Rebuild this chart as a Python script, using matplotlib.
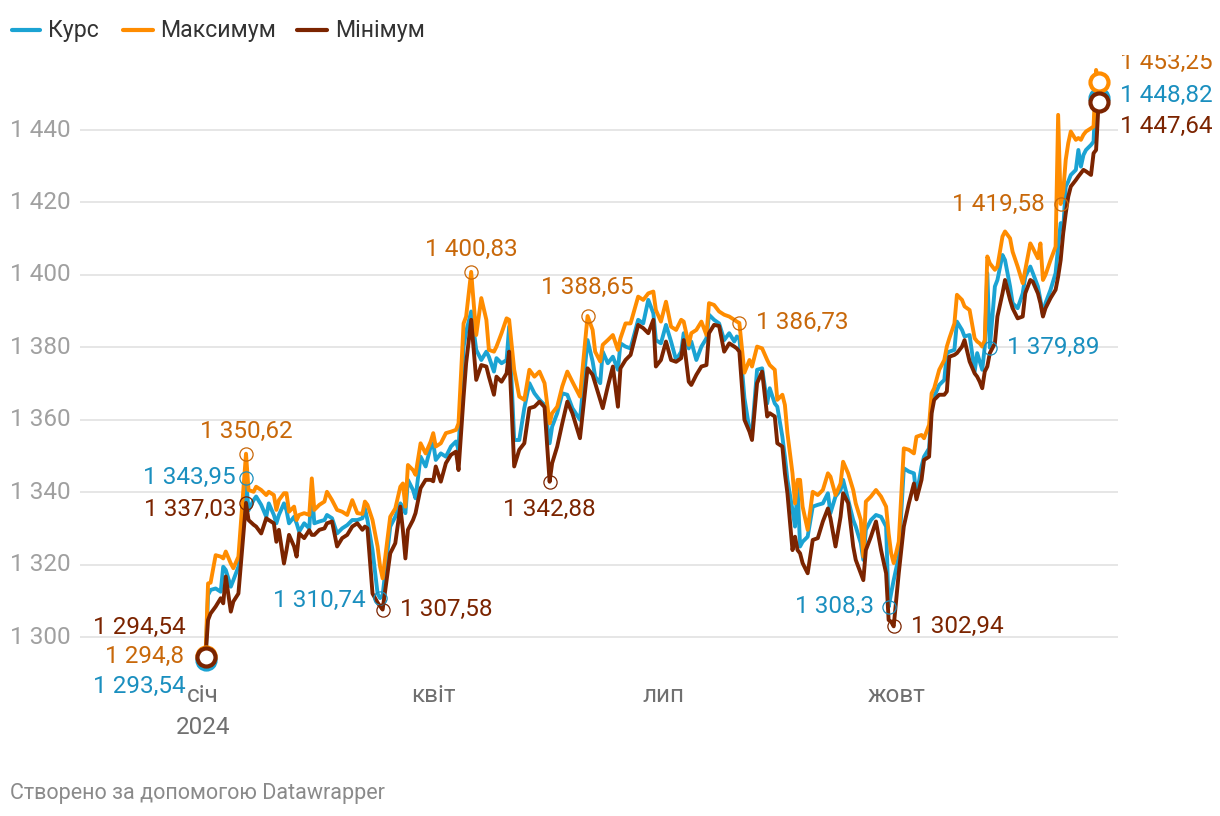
import numpy as np
import pandas as pd
import matplotlib
matplotlib.use('Agg')
import matplotlib.pyplot as plt
from matplotlib.lines import Line2D
from matplotlib.patches import Rectangle

# days since 1 Jan 2024
day = [1, 2, 3, 5, 7, 8, 9, 11, 12, 14, 17, 18, 20, 21, 23, 25, 26, 28, 29, 30,
       32, 33, 34, 36, 37, 38, 40, 42, 43, 44, 46, 48, 49, 51, 53, 55, 57, 59, 61, 63,
       64, 65, 67, 69, 70, 71, 74, 76, 78, 79, 80, 81, 83, 84, 86, 88, 90, 91, 92, 94,
       96, 98, 100, 101, 103, 104, 106, 108, 110, 112, 113, 115, 116, 118, 120, 121, 123, 125, 127, 129,
       131, 133, 135, 137, 138, 140, 142, 144, 146, 149, 152, 154, 155, 157, 158, 160, 162, 164, 165, 167,
       169, 172, 174, 176, 178, 179, 181, 183, 185, 187, 189, 190, 192, 193, 195, 197, 199, 200, 202, 204,
       206, 208, 210, 211, 212, 214, 216, 217, 219, 221, 223, 224, 226, 227, 229, 230, 231, 233, 234, 235,
       236, 237, 239, 241, 243, 245, 247, 248, 250, 252, 253, 255, 257, 258, 260, 261, 262, 264, 266, 268,
       270, 271, 272, 273, 275, 277, 279, 281, 282, 284, 285, 287, 288, 289, 291, 293, 294, 295, 297, 298,
       300, 301, 303, 305, 306, 307, 308, 309, 310, 311, 313, 314, 316, 317, 319, 320, 322, 324, 325, 327,
       328, 330, 331, 332, 333, 335, 337, 338, 339, 340, 341, 342, 343, 345, 346, 347, 348, 349, 351, 352,
       353, 354]

kurs = [1293.54, 1311.6, 1313.0, 1313.4, 1312.5, 1319.4, 1318.5, 1313.9, 1315.7, 1319.4,
        1343.95, 1335.0, 1337.8, 1338.8, 1336.5, 1333.2, 1336.9, 1333.7, 1331.4, 1333.7,
        1336.9, 1335.0, 1331.4, 1333.2, 1331.4, 1329.1, 1331.4, 1330.0, 1340.6, 1331.4,
        1331.9, 1332.3, 1333.7, 1332.8, 1328.6, 1330.0, 1330.9, 1332.3, 1332.3, 1332.8,
        1335.5, 1332.3, 1324.0, 1312.0, 1310.74, 1311.5, 1330.5, 1333.2, 1336.9, 1336.0,
        1334.2, 1343.4, 1340.6, 1338.3, 1349.8, 1347.1, 1352.6, 1353.5, 1348.9, 1350.7,
        1349.8, 1352.6, 1354.0, 1351.7, 1380.2, 1384.3, 1389.9, 1379.3, 1376.5, 1378.8,
        1377.4, 1373.3, 1377.0, 1375.6, 1376.5, 1385.7, 1354.4, 1354.4, 1363.2, 1370.1,
        1367.3, 1365.5, 1364.1, 1353.5, 1358.1, 1361.8, 1367.3, 1366.9, 1363.2, 1360.0,
        1382.0, 1376.1, 1371.9, 1370.1, 1378.8, 1375.6, 1377.4, 1373.8, 1381.1, 1380.2,
        1379.7, 1387.6, 1386.6, 1393.1, 1389.4, 1382.0, 1381.1, 1386.2, 1381.6, 1376.5,
        1378.8, 1383.9, 1379.7, 1381.6, 1376.5, 1380.2, 1382.5, 1389.0, 1387.6, 1386.6,
        1382.0, 1383.9, 1381.6, 1383.0, 1382.5, 1366.0, 1357.2, 1356.3, 1373.8, 1374.2,
        1364.5, 1368.7, 1364.5, 1363.6, 1355.3, 1349.8, 1343.4, 1335.1, 1330.5, 1341.5,
        1325.0, 1326.3, 1327.7, 1336.0, 1336.5, 1336.9, 1339.7, 1334.2, 1338.8, 1340.6,
        1343.4, 1337.8, 1332.3, 1330.5, 1325.9, 1321.3, 1329.6, 1332.3, 1333.7, 1333.2,
        1330.5, 1308.3, 1312.1, 1315.7, 1322.2, 1346.6, 1345.7, 1345.2, 1338.8, 1347.1,
        1349.8, 1352.1, 1363.6, 1366.4, 1369.6, 1371.0, 1378.4, 1378.8, 1379.3, 1387.1,
        1384.8, 1383.0, 1383.4, 1373.3, 1378.4, 1376.1, 1373.8, 1380.2, 1400.5, 1379.89,
        1396.8, 1398.6, 1405.5, 1404.1, 1396.8, 1392.2, 1390.8, 1394.9, 1399.5, 1402.3,
        1400.5, 1396.8, 1393.1, 1388.9, 1392.2, 1395.9, 1400.5, 1407.8, 1414.3, 1412.4,
        1424.4, 1425.8, 1427.6, 1429.0, 1434.5, 1429.9, 1433.1, 1434.5, 1435.9, 1436.8,
        1452.5, 1448.82]

maksymum = [1294.8, 1314.8, 1315.0, 1322.6, 1322.2, 1321.7, 1323.6, 1320.3, 1319.0, 1322.2,
            1350.62, 1340.6, 1340.1, 1341.5, 1340.6, 1339.2, 1340.1, 1339.2, 1335.1, 1337.8,
            1339.7, 1339.7, 1334.6, 1336.0, 1332.3, 1333.7, 1334.2, 1333.7, 1343.8, 1335.1,
            1336.5, 1337.4, 1340.1, 1337.8, 1335.1, 1334.6, 1333.7, 1337.8, 1334.2, 1334.0,
            1337.4, 1336.5, 1332.3, 1325.0, 1319.4, 1316.2, 1333.2, 1335.5, 1341.5, 1342.4,
            1336.0, 1347.5, 1346.1, 1344.8, 1353.5, 1350.7, 1354.0, 1356.3, 1352.6, 1353.5,
            1356.3, 1356.7, 1357.2, 1359.0, 1386.6, 1388.5, 1400.83, 1383.4, 1393.6, 1387.6,
            1379.3, 1378.8, 1380.2, 1383.9, 1388.0, 1387.6, 1373.8, 1366.4, 1365.5, 1373.8,
            1371.9, 1373.3, 1370.1, 1359.0, 1361.8, 1363.6, 1369.2, 1373.3, 1370.5, 1366.4,
            1388.65, 1384.8, 1378.8, 1376.1, 1380.7, 1382.0, 1383.4, 1379.3, 1382.5, 1386.6,
            1386.6, 1394.0, 1393.1, 1394.9, 1395.4, 1390.3, 1387.1, 1392.6, 1385.7, 1384.8,
            1387.6, 1387.1, 1380.7, 1383.9, 1384.8, 1387.1, 1383.4, 1392.2, 1391.7, 1389.9,
            1389.0, 1388.5, 1387.6, 1387.1, 1386.73, 1373.0, 1376.5, 1374.7, 1380.2, 1379.7,
            1376.5, 1375.1, 1373.8, 1365.5, 1366.9, 1364.1, 1356.3, 1345.2, 1336.9, 1343.4,
            1343.4, 1336.0, 1329.6, 1340.1, 1339.2, 1340.6, 1345.2, 1344.3, 1339.2, 1342.4,
            1348.4, 1345.2, 1340.6, 1336.9, 1332.3, 1322.2, 1337.4, 1338.8, 1340.6, 1338.8,
            1336.0, 1328.6, 1323.1, 1320.4, 1326.3, 1352.1, 1351.7, 1350.7, 1355.3, 1355.8,
            1354.9, 1358.6, 1367.3, 1368.7, 1373.8, 1376.5, 1380.2, 1382.5, 1386.6, 1394.5,
            1393.1, 1391.3, 1390.3, 1382.5, 1381.6, 1381.1, 1380.2, 1382.0, 1405.1, 1403.2,
            1401.4, 1402.3, 1410.6, 1412.0, 1410.1, 1406.4, 1402.3, 1397.7, 1401.4, 1408.7,
            1407.4, 1404.6, 1408.7, 1398.6, 1400.0, 1404.1, 1407.8, 1444.2, 1419.58, 1423.0,
            1431.8, 1436.4, 1439.6, 1437.3, 1437.8, 1437.3, 1438.7, 1439.6, 1440.5, 1441.0,
            1456.6, 1453.25]

minimum = [1294.54, 1304.7, 1306.5, 1308.4, 1310.7, 1309.3, 1316.7, 1307.0, 1309.8, 1312.0,
           1337.03, 1332.3, 1331.0, 1330.5, 1328.6, 1332.8, 1332.3, 1331.4, 1326.3, 1329.6,
           1320.3, 1324.0, 1328.2, 1325.0, 1322.2, 1328.6, 1327.3, 1329.5, 1328.2, 1328.2,
           1329.6, 1330.0, 1331.4, 1331.9, 1325.0, 1327.3, 1328.2, 1330.5, 1331.4, 1329.6,
           1330.5, 1330.0, 1312.0, 1309.5, 1308.5, 1307.58, 1323.1, 1325.9, 1336.0, 1329.6,
           1321.7, 1329.6, 1332.3, 1334.2, 1341.1, 1343.4, 1343.4, 1343.0, 1347.1, 1342.9,
           1348.0, 1350.3, 1351.2, 1346.1, 1366.4, 1375.6, 1387.6, 1371.0, 1375.1, 1374.7,
           1371.9, 1366.9, 1371.9, 1370.5, 1372.8, 1378.8, 1347.1, 1351.7, 1353.5, 1363.2,
           1363.6, 1365.0, 1363.5, 1342.88, 1348.0, 1352.6, 1359.0, 1365.0, 1361.8, 1354.9,
           1374.2, 1372.4, 1370.1, 1365.5, 1363.2, 1369.2, 1374.7, 1363.6, 1374.2, 1376.5,
           1377.9, 1386.2, 1385.3, 1383.9, 1387.6, 1374.7, 1376.5, 1381.6, 1376.5, 1376.0,
           1377.0, 1382.0, 1370.5, 1369.6, 1372.4, 1374.7, 1375.1, 1383.9, 1386.2, 1385.9,
           1378.8, 1381.1, 1380.2, 1379.7, 1378.8, 1360.0, 1356.7, 1354.4, 1370.1, 1373.3,
           1360.9, 1361.8, 1360.9, 1353.5, 1352.6, 1345.2, 1339.7, 1324.0, 1327.7, 1324.0,
           1323.1, 1320.4, 1317.6, 1326.8, 1327.3, 1331.9, 1335.5, 1332.8, 1325.0, 1333.2,
           1339.7, 1337.0, 1325.0, 1321.3, 1317.6, 1315.7, 1324.0, 1327.7, 1331.9, 1324.0,
           1317.6, 1304.7, 1304.2, 1302.94, 1317.6, 1330.5, 1336.9, 1342.4, 1338.0, 1343.4,
           1348.9, 1349.8, 1361.8, 1365.5, 1366.9, 1366.9, 1367.8, 1377.4, 1377.9, 1378.4,
           1380.2, 1382.0, 1376.1, 1372.8, 1371.9, 1370.5, 1368.7, 1373.3, 1374.7, 1378.4,
           1381.1, 1388.5, 1394.9, 1398.6, 1393.1, 1390.8, 1388.0, 1388.5, 1394.9, 1398.6,
           1398.1, 1394.9, 1392.2, 1388.5, 1390.8, 1393.6, 1395.9, 1399.5, 1404.1, 1411.5,
           1417.0, 1421.6, 1424.4, 1426.2, 1427.2, 1428.1, 1429.0, 1428.6, 1427.6, 1433.6,
           1434.5, 1447.64]

y_ticks = [1300, 1320, 1340, 1360, 1380, 1400, 1420, 1440]
x_ticks = ['2024-01-01', '2024-04-01', '2024-07-01', '2024-10-01']
x_tick_labels = ['січ\n2024', 'квіт', 'лип', 'жовт']

BLUE = '#1ba3d3'
ORANGE = '#ff8c00'
BROWN = '#7b2400'
BLUE_TXT = '#1a8fbf'
ORANGE_TXT = '#c8680a'
BROWN_TXT = '#7b2400'

plt.rcParams['font.family'] = ['Roboto', 'DejaVu Sans']

dates = pd.Timestamp('2024-01-01') + pd.to_timedelta(day, unit='D')
start = pd.Timestamp('2024-01-01')


def fmt(v):
    s = f'{v:,.2f}'.rstrip('0').rstrip('.')
    return s.replace(',', ' ').replace('.', ',')


W, H = 1220, 816
fig = plt.figure(figsize=(W / 100, H / 100), dpi=100)
ax_l, ax_r, ax_t, ax_b = 80, 1118, 55, 680
ax = fig.add_axes([ax_l / W, 1 - ax_b / H, (ax_r - ax_l) / W, (ax_b - ax_t) / H])
ax.set_xlim(start + pd.Timedelta(days=(ax_l - 203) / 2.53), start + pd.Timedelta(days=(ax_r - 203) / 2.53))
ax.set_ylim(1300 + (637 - ax_b) / 3.621, 1300 + (637 - ax_t) / 3.621)
ax.axis('off')

FS = 17.5

for t in y_ticks:
    ax.axhline(t, color='#e2e2e2', lw=1.2, zorder=0)
    ax.annotate(f'{t:,}'.replace(',', ' '), xy=(0, t), xycoords=('figure pixels', 'data'),
                xytext=(10, 0), textcoords='offset pixels', ha='left', va='center',
                fontsize=FS, color='#a0a0a0')

for d, lab in zip(x_ticks, x_tick_labels):
    ax.annotate(lab, xy=(pd.Timestamp(d), 0), xycoords=('data', 'figure pixels'),
                xytext=(0, H - 684), textcoords='offset pixels', ha='center', va='top',
                fontsize=FS, color='#707070', linespacing=1.5)

LW = 2.8
ax.plot(dates, kurs, color=BLUE, lw=LW, zorder=3, solid_joinstyle='round')
ax.plot(dates, maksymum, color=ORANGE, lw=LW, zorder=4, solid_joinstyle='round')
ax.plot(dates, minimum, color=BROWN, lw=LW, zorder=5, solid_joinstyle='round')

series = {'k': (kurs, BLUE, BLUE_TXT, 0), 'h': (maksymum, ORANGE, ORANGE_TXT, 1),
          'l': (minimum, BROWN, BROWN_TXT, 2)}

# (series, day, ha, dx, dy) offsets in pixels
labels = [
    ('l', 1, 'right', -20, 29), ('h', 1, 'right', -22, -1), ('k', 1, 'right', -20, -26),
    ('h', 17, 'center', 0, 22), ('k', 17, 'right', -10, 0), ('l', 17, 'right', -10, -7),
    ('k', 70, 'right', -14, -2), ('l', 71, 'left', 17, 0),
    ('h', 106, 'center', 0, 22), ('l', 137, 'center', 0, -28),
    ('h', 152, 'center', 0, 29), ('h', 212, 'left', 17, 0),
    ('k', 271, 'right', -15, 0), ('l', 273, 'left', 17, 0),
    ('k', 311, 'left', 17, 0), ('h', 339, 'right', -16, 0),
    ('h', 354, 'left', 21, 20), ('k', 354, 'left', 21, 3), ('l', 354, 'left', 21, -24),
]

clip = Rectangle((0, 0), 1, 1 - ax_t / H, transform=fig.transFigure)
for key, d, ha, dx, dy in labels:
    vals, col, tcol, order = series[key]
    i = day.index(d)
    x, y = dates[i], vals[i]
    if d in (1, 354):
        ax.plot([x], [y], 'o', ms=13, mfc='white', mec=col, mew=3, zorder=6 + order * 0.1)
    else:
        ax.plot([x], [y], 'o', ms=9.5, mfc='none', mec=tcol, mew=0.9, zorder=6)
    t = ax.annotate(fmt(y), xy=(x, y), xytext=(dx, dy), textcoords='offset pixels',
                    ha=ha, va='center', fontsize=FS, color=tcol, annotation_clip=False, zorder=7)
    t.set_clip_on(True)
    t.set_clip_path(clip)

# legend
leg = [('Курс', BLUE, 12, 40, 48), ('Максимум', ORANGE, 123, 153, 160), ('Мінімум', BROWN, 297, 327, 335)]
for name, col, x0, x1, tx in leg:
    fig.add_artist(Line2D([x0 / W, x1 / W], [1 - 30 / H, 1 - 30 / H], color=col, lw=3,
                          solid_capstyle='round', transform=fig.transFigure))
    fig.text(tx / W, 1 - 30 / H, name, ha='left', va='center', fontsize=16.7, color='#333333')

fig.text(10 / W, 1 - 793 / H, 'Створено за допомогою Datawrapper', ha='left', va='center',
         fontsize=15.5, color='#8a8a8a')

fig.savefig('out.png', dpi=100)
